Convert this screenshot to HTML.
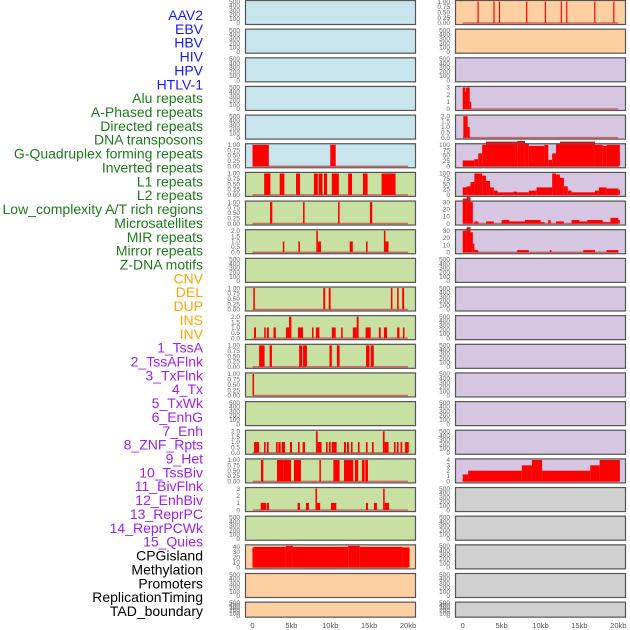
<!DOCTYPE html>
<html><head><meta charset="utf-8"><style>
html,body{margin:0;padding:0;background:#fff;width:630px;height:630px;overflow:hidden}
svg{display:block;font-family:"Liberation Sans",sans-serif}
</style></head><body>
<svg id="chart" width="630" height="630" viewBox="0 0 630 630"></svg>
<script>
const labels=["AAV2","EBV","HBV","HIV","HPV","HTLV-1","Alu repeats","A-Phased repeats","Directed repeats","DNA transposons","G-Quadruplex forming repeats","Inverted repeats","L1 repeats","L2 repeats","Low_complexity A/T rich regions","Microsatellites","MIR repeats","Mirror repeats","Z-DNA motifs","CNV","DEL","DUP","INS","INV","1_TssA","2_TssAFlnk","3_TxFlnk","4_Tx","5_TxWk","6_EnhG","7_Enh","8_ZNF_Rpts","9_Het","10_TssBiv","11_BivFlnk","12_EnhBiv","13_ReprPC","14_ReprPCWk","15_Quies","CPGisland","Methylation","Promoters","ReplicationTiming","TAD_boundary"];
const labelGroups=[6,13,5,15,5];
const groupColors=["#1818ff","#1f7a1f","#ffa500","#a020f0","#000000"];
const xTicks=[0,5,10,15,20];
const xTickLabels=["0","5kb","10kb","15kb","20kb"];
const leftColors=["#c8e4ec","#c8e4ec","#c8e4ec","#c8e4ec","#c8e4ec","#c8e4ec","#c8e0a2","#c8e0a2","#c8e0a2","#c8e0a2","#c8e0a2","#c8e0a2","#c8e0a2","#c8e0a2","#c8e0a2","#c8e0a2","#c8e0a2","#c8e0a2","#c8e0a2","#fecfa0","#fecfa0","#fecfa0"];
const rightColors=["#fecfa0","#fecfa0","#d6c6e2","#d6c6e2","#d6c6e2","#d6c6e2","#d6c6e2","#d6c6e2","#d6c6e2","#d6c6e2","#d6c6e2","#d6c6e2","#d6c6e2","#d6c6e2","#d6c6e2","#d6c6e2","#d6c6e2","#d0d0d0","#d0d0d0","#d0d0d0","#d0d0d0","#d0d0d0"];
const T500=[0,100,200,300,400,500];
const T1=["0.00","0.25","0.50","0.75","1.00"];
const T2=["0.0","0.5","1.0","1.5","2.0"];
const T3=["0","1","2","3"];
const T4=["0","1","2","3","4"];
const T100=["0","25","50","75","100"];
const T30=["0","10","20","30"];
const T40=["0","10","20","30","40"];
// bars: [startKb, endKb, value]
const leftBars=[
[],[],[],[],[],
[[0,2.1,1],[10,10.7,1]],
[[1.5,2.3,1],[3.5,4.1,1],[5.6,6.1,1],[7.9,8.4,1],[8.5,9.0,1],[9.2,9.6,1],[10.2,11.1,1],[12.3,12.8,1],[14.2,14.8,1],[16.6,18.4,1]],
[[2.25,2.55,1],[6.5,6.7,1],[11,11.2,1],[15.1,15.4,1]],
[[3.9,4.1,1],[5.9,6.1,1],[8.2,8.4,2],[8.4,8.8,1],[12.5,12.9,1],[14.6,14.8,1],[16.9,17.1,2],[17.1,17.5,1]],
[],
[[0.1,0.3,1],[9.1,9.35,1],[9.8,10.05,1],[17.8,18.0,1],[18.6,18.8,1],[19.25,19.5,1]],
[[0.2,0.45,1],[1.5,1.7,1],[1.85,2.1,1],[2.7,3.0,1],[4.3,4.7,1],[4.7,5.0,2],[5.85,6.5,1],[7.65,7.85,1],[8.15,8.6,1],[10.2,10.7,1],[11.4,11.6,1],[12.9,13.4,1],[13.4,13.65,2],[14.55,15.2,1],[16.25,16.5,1],[16.9,17.3,1],[18.6,18.9,1],[19.35,19.55,1]],
[[0.85,1.55,1],[2.2,2.5,1],[6,6.4,1],[6.5,7.0,1],[9.9,10.2,1],[10.85,11.2,1],[14.6,15.05,1],[15.2,15.6,1]],
[[0,0.2,1]],
[],
[[0.19,0.84,1],[1.48,1.69,1],[1.86,2.08,1],[3.02,3.23,1],[3.32,3.62,1],[3.75,4.18,1],[4.82,5.08,1],[5.85,6.06,1],[6.45,6.75,1],[8.16,8.38,2],[8.38,8.89,1],[9.45,9.66,1],[9.83,10.05,1],[10.18,10.82,1],[11.76,12.02,1],[12.15,12.4,1],[12.66,12.87,1],[13.56,13.77,1],[14.59,14.8,1],[15.36,15.58,1],[16.77,16.99,2],[16.99,17.5,1],[18.19,18.4,1],[18.57,18.79,1],[19.04,19.26,1],[19.6,20.1,1]],
[[1.09,1.39,1],[3.15,3.96,1],[3.96,4.95,1],[5.33,6.23,1],[8.6,8.8,1],[10.4,11.2,1],[11.76,12.96,1],[13.17,13.6,1],[14.07,14.42,1],[14.5,14.85,1]],
[[1.05,1.74,1],[1.82,2.12,1],[5.8,6.1,1],[6.87,7.26,1],[8.1,8.3,3],[8.3,8.7,1],[10.09,10.78,1],[14.59,14.85,1],[15.62,16.0,1],[16.8,17.0,3],[17.0,17.55,1]],
[],
[[0,0.2,39],[0.2,4.3,40],[4.3,5.2,42],[5.2,12.3,40],[12.3,13.8,42],[13.8,19.3,40],[19.3,20.2,39]],
[],[]
];
const rightBars=[
[[1.9,2.05,1],[3.95,4.1,1],[4.65,4.8,1],[8.15,8.3,1],[10.55,10.7,1],[12.6,12.75,1],[13.3,13.45,1],[16.9,17.05,1],[19.35,19.5,1]],
[],[],
[[0,0.3,3],[0.3,0.38,2.4],[0.38,0.9,3],[0.9,1.1,1]],
[[0.08,0.63,2],[0.63,0.9,1]],
[[0,1.5,27],[1.5,2,33],[2,2.5,60],[2.5,3,100],[3,7,115],[7,8,118],[8,8.5,108],[8.5,10.5,95],[10.5,11,100],[11,11.5,30],[11.5,12,60],[12,12.5,105],[12.5,17,115],[17,18,100],[18,18.5,95],[18.5,20.2,100]],
[[0,0.5,35],[0.5,1,40],[1,1.5,60],[1.5,2.5,100],[2.5,3,90],[3,3.5,65],[3.5,4,35],[4,4.5,20],[4.5,6.5,12],[6.5,7,15],[7,8.5,12],[8.5,9.5,20],[9.5,11.5,35],[11.5,12,100],[12,12.5,95],[12.5,13,80],[13,13.5,40],[13.5,14,20],[14,17,12],[17,17.5,20],[17.5,18.5,35],[18.5,20,30],[20,20.2,25]],
[[0,0.5,35],[0.5,1,37],[1,1.3,30],[1.5,2,3],[3,4,3],[5,6,5],[6,8,3],[8,10,5],[10,10.5,2],[11,11.3,5],[12,13,3],[14,15,5],[15,16,3],[16,18,5],[18,19,2],[19,20,8],[20,20.2,5]],
[[0,0.5,30],[0.5,1,35],[1,1.3,28],[1.3,1.5,12],[1.5,2,3],[7,8.5,3],[11.2,11.4,3],[15.5,17,3],[18.5,20,3]],
[],[],[],[],[],[],[],
[[0,0.7,1.3],[0.7,7.6,2],[7.6,8.9,3],[8.9,10.2,4],[10.2,16.4,2],[16.4,17.6,3],[17.6,20.2,4]],
[],[],[],[],[]
];
const leftTicks=[T500,T500,T500,T500,T500,T1,T1,T1,T2,T500,T1,T2,T1,T1,T500,T2,T1,T3,T500,T40,T500,T500];
const rightTicks=[T1,T500,T500,T3,T2,T100,T100,T30,T30,T500,T500,T500,T500,T500,T500,T500,T4,T500,T500,T500,T500,T500];

const NS="http://www.w3.org/2000/svg";
const svg=document.getElementById("chart");
function mk(tag,attrs,parent){const e=document.createElementNS(NS,tag);for(const k in attrs)e.setAttribute(k,attrs[k]);(parent||svg).appendChild(e);return e;}

// labels
let li=0;
labelGroups.forEach((n,g)=>{for(let i=0;i<n;i++){const t=mk("text",{x:203,y:15+li*13.86+5,"text-anchor":"end","font-size":"14",fill:groupColors[g]});


t.textContent=labels[li];li++;}});

function rowTop(r){return r*28.65;}
function rowH(r){return r===21?16:25;}
function drawPanel(r,px,color,bars,ticks,x0,x1,side){
  const top=rowTop(r),h=rowH(r),bot=top+h;
  const g=mk("g",{});
  
  
  mk("rect",{x:px,y:top,width:171,height:h,fill:color},g);
  const nums=ticks.map(Number);const tmax=Math.max(...nums);
  const ymax=tmax*(ticks===T40?1.1:1.05);
  const y0=bot-2,yTop=top+0.5;
  const sy=v=>y0-(v/ymax)*(y0-yTop);
  const sx=k=>x0+(k/20)*(x1-x0);
  if(bars.length){
    mk("line",{x1:sx(0),x2:sx(20),y1:y0,y2:y0,stroke:"#d05050","stroke-width":1.5,opacity:0.8},g);
  }
  bars.forEach(b=>{const r2=mk("rect",{x:sx(b[0]),y:sy(b[2]),width:Math.max(1,sx(b[1])-sx(b[0])),height:y0-sy(b[2]),fill:"#ff0000"},g);
    
    });
  ticks.forEach(t=>{const tx=mk("text",{x:px-5,y:sy(Number(t))+2.2,"text-anchor":"end","font-size":"6.5",fill:"#666"},g);
    
    
    tx.textContent=t;});
  mk("rect",{x:px+0.5,y:top+0.5,width:170,height:h-1,fill:"none",stroke:"#555","stroke-width":1.2},g);
}
for(let r=0;r<22;r++){
  drawPanel(r,245,leftColors[r],leftBars[r],leftTicks[r],252.5,408,'left');
  drawPanel(r,455,rightColors[r],rightBars[r],rightTicks[r],462.7,618.3,'right');
}
[[252.5,408],[462.7,618.3]].forEach((ax,i)=>{
  xTicks.forEach((k,j)=>{const t=mk("text",{x:ax[0]+(k/20)*(ax[1]-ax[0]),y:628,"text-anchor":"middle","font-size":"7.5",fill:"#555"});
  
  
  t.textContent=xTickLabels[j];});
});
</script>
</body></html>
